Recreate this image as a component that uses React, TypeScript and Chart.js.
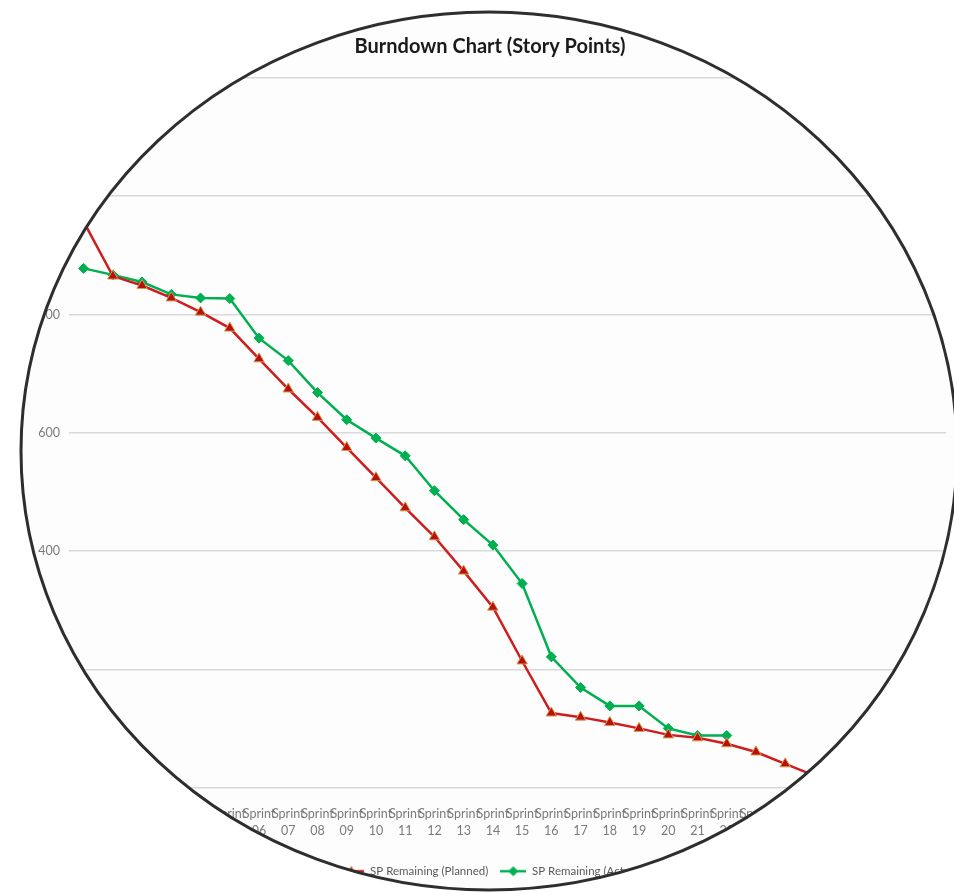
import React, { useEffect, useRef } from "react";
import { Chart, registerables } from "chart.js";

Chart.register(...registerables);

const sprints = [
  "Sprint 00", "Sprint 01", "Sprint 02", "Sprint 03", "Sprint 04", "Sprint 05",
  "Sprint 06", "Sprint 07", "Sprint 08", "Sprint 09", "Sprint 10", "Sprint 11",
  "Sprint 12", "Sprint 13", "Sprint 14", "Sprint 15", "Sprint 16", "Sprint 17",
  "Sprint 18", "Sprint 19", "Sprint 20", "Sprint 21", "Sprint 22", "Sprint 23",
  "Sprint 24", "Sprint 25", "Sprint 26", "Sprint 27", "Sprint 28", "Sprint 29",
];

const plannedSP: (number | null)[] = [
  957, 865, 849, 828, 804, 777, 725, 674, 626, 575, 524, 473, 424, 366, 305,
  214, 126, 119, 110, 100, 89, 84, 74, 60, 40, 20, 0, null, null, null,
];

const actualSP: (number | null)[] = [
  878, 867, 855, 834, 828, 827, 760, 722, 668, 622, 591, 561, 502, 453, 410,
  345, 221, 169, 138, 138, 100, 88, 88, null, null, null, null, null, null, null,
];

const yTicks = [0, 200, 400, 600, 800, 1000, 1200];
const chartTitle = "Burndown Chart (Story Points)";
const seriesNames = ["SP Remaining (Planned)", "SP Remaining (Actual)"];

const RED_LINE = "#cf1d1d";
const RED_MARK = "#b80f0f";
const RED_EDGE = "#d49a4a";
const GREEN = "#00b050";
const TEXT_GREY = "#7a7a7a";
const FONT = "Lato, 'Liberation Sans', Arial, sans-serif";

function legendIcon(line: string, fill: string, edge: string, shape: "triangle" | "diamond") {
  const c = document.createElement("canvas");
  c.width = 26;
  c.height = 12;
  const g = c.getContext("2d")!;
  g.strokeStyle = line;
  g.lineWidth = 2.5;
  g.beginPath();
  g.moveTo(0, 6);
  g.lineTo(26, 6);
  g.stroke();
  g.fillStyle = fill;
  g.strokeStyle = edge;
  g.lineWidth = 1;
  g.beginPath();
  if (shape === "triangle") {
    g.moveTo(13, 1);
    g.lineTo(18, 10);
    g.lineTo(8, 10);
  } else {
    g.moveTo(13, 1.5);
    g.lineTo(17.5, 6);
    g.lineTo(13, 10.5);
    g.lineTo(8.5, 6);
  }
  g.closePath();
  g.fill();
  g.stroke();
  return c;
}

const ellipseFrame = {
  id: "ellipseFrame",
  beforeDraw(chart: any) {
    const { ctx } = chart;
    ctx.save();
    ctx.beginPath();
    ctx.ellipse(489, 451, 468, 439, 0, 0, Math.PI * 2);
    ctx.fillStyle = "#fdfdfd";
    ctx.fill();
    ctx.clip();
  },
  afterDraw(chart: any) {
    const { ctx } = chart;
    ctx.restore();
    ctx.save();
    ctx.beginPath();
    ctx.ellipse(489, 451, 468, 439, 0, 0, Math.PI * 2);
    ctx.lineWidth = 3;
    ctx.strokeStyle = "#2e2e2e";
    ctx.stroke();
    ctx.restore();
  },
};

export default function App() {
  const ref = useRef<HTMLCanvasElement | null>(null);

  useEffect(() => {
    if (!ref.current) return;
    const icons = [
      legendIcon(RED_LINE, RED_MARK, RED_EDGE, "triangle"),
      legendIcon(GREEN, GREEN, GREEN, "diamond"),
    ];
    const chart = new Chart(ref.current, {
      type: "line",
      data: {
        labels: sprints,
        datasets: [
          {
            label: seriesNames[0],
            data: plannedSP,
            borderColor: RED_LINE,
            backgroundColor: RED_MARK,
            borderWidth: 2.5,
            pointStyle: "triangle",
            pointRadius: 6,
            pointBackgroundColor: RED_MARK,
            pointBorderColor: RED_EDGE,
            pointBorderWidth: 1,
            tension: 0,
          },
          {
            label: seriesNames[1],
            data: actualSP,
            borderColor: GREEN,
            backgroundColor: GREEN,
            borderWidth: 2.5,
            pointStyle: "rectRot",
            pointRadius: 5,
            pointBackgroundColor: GREEN,
            pointBorderColor: GREEN,
            pointBorderWidth: 1,
            tension: 0,
          },
        ],
      },
      options: {
        responsive: false,
        animation: false,
        layout: { padding: { left: 34, right: 8, top: 0, bottom: 7 } },
        scales: {
          x: {
            type: "category",
            offset: true,
            grid: {
              display: true,
              drawOnChartArea: false,
              drawTicks: true,
              tickLength: 18,
              tickColor: "rgba(0,0,0,0)",
              color: "rgba(0,0,0,0)",
            },
            border: { display: false },
            ticks: {
              autoSkip: false,
              maxRotation: 0,
              minRotation: 0,
              padding: 0,
              color: TEXT_GREY,
              font: { family: FONT, size: 12.5, lineHeight: 1.36 },
              callback: function (this: any, value: any) {
                const lbl = String(this.getLabelForValue(value));
                return lbl.split(" ");
              },
            },
            afterFit(scale: any) {
              scale.height = 66;
            },
          },
          y: {
            min: 0,
            max: 1200,
            afterBuildTicks(scale: any) {
              scale.ticks = yTicks.map((v) => ({ value: v }));
            },
            grid: { color: "#d9d9d9", lineWidth: 1.5, drawTicks: false },
            border: { display: false },
            ticks: {
              padding: 9,
              color: TEXT_GREY,
              font: { family: FONT, size: 12.5 },
            },
            afterFit(scale: any) {
              scale.width = 35;
            },
          },
        },
        plugins: {
          title: {
            display: true,
            text: chartTitle,
            color: "#1a1a1a",
            font: { family: FONT, size: 20, weight: "bold", lineHeight: 1.2 },
            padding: { top: 35, bottom: 19 },
          },
          legend: {
            position: "bottom",
            labels: {
              usePointStyle: true,
              pointStyleWidth: 26,
              boxHeight: 12,
              padding: 12,
              color: "#595959",
              font: { family: FONT, size: 11.5 },
              generateLabels(chart: any) {
                const items = Chart.defaults.plugins.legend.labels.generateLabels(chart);
                items.forEach((it: any, i: number) => {
                  it.pointStyle = icons[i];
                });
                return items;
              },
            },
          },
          tooltip: { enabled: false },
        },
      },
      plugins: [ellipseFrame],
    });
    return () => chart.destroy();
  }, []);

  return (
    <div style={{ position: "absolute", left: 0, top: 0, width: 954, height: 894, background: "#ffffff" }}>
      <canvas ref={ref} width={954} height={894} style={{ width: 954, height: 894, display: "block" }} />
    </div>
  );
}
